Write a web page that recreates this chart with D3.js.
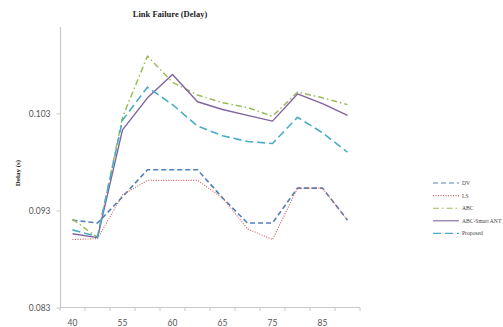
<!DOCTYPE html>
<html><head><meta charset="utf-8">
<script src="https://cdn.jsdelivr.net/npm/d3@7"></script>
<style>body{margin:0;background:#fff}svg{display:block}</style>
</head><body>
<svg id="c" width="503" height="327"></svg>
<script>
const categories = ["40","45","55","57","60","62","65","70","75","80","85","90"];
const shownLabels = ["40","55","60","65","75","85"];
const yTicks = [0.083, 0.093, 0.103];
const dv       = [0.0920,0.0917,0.0944,0.0972,0.0972,0.0972,0.0943,0.0917,0.0917,0.0953,0.0953,0.0920];
const ls       = [0.0900,0.0901,0.0946,0.0961,0.0961,0.0961,0.0943,0.0911,0.0900,0.0953,0.0953,0.0920];
const abc      = [0.0921,0.0902,0.1026,0.1089,0.1062,0.1049,0.1041,0.1036,0.1027,0.1052,0.1046,0.1039];
const smartAnt = [0.0906,0.0902,0.1013,0.1046,0.1070,0.1042,0.1034,0.1028,0.1022,0.1050,0.1040,0.1028];
const proposed = [0.0910,0.0903,0.1023,0.1057,0.1039,0.1017,0.1007,0.1001,0.0999,0.1026,0.1010,0.0990];
const seriesNames = ["DV","LS","ABC","ABC-Smart ANT","Proposed"];

const series = [
  {name:seriesNames[0], values:dv, color:"#4F81BD", width:1.6, dash:"5,3"},
  {name:seriesNames[1], values:ls, color:"#D0605D", width:1.1, dash:"1,1.5"},
  {name:seriesNames[2], values:abc, color:"#9BBB59", width:1.5, dash:"6,3,1.5,3"},
  {name:seriesNames[3], values:smartAnt, color:"#8064A2", width:1.4, dash:null},
  {name:seriesNames[4], values:proposed, color:"#4BACC6", width:1.6, dash:"8,4"}
];

const svg = d3.select("#c");
const x = d3.scaleBand().domain(categories).range([60,360]);
const y = d3.scaleLinear().domain([0.083, 0.1119]).range([307.5, 27]);
const cx = c => x(c) + x.bandwidth()/2;

const axisColor = "#c8c8c8";
svg.append("line").attr("x1",60.5).attr("x2",60.5).attr("y1",y.range()[1]).attr("y2",307.5)
  .attr("stroke",axisColor).attr("stroke-width",1.2);
svg.append("line").attr("x1",60).attr("x2",360).attr("y1",307.5).attr("y2",307.5)
  .attr("stroke",axisColor).attr("stroke-width",1.2);

const ya = d3.axisLeft(y).tickValues(yTicks).tickFormat(d3.format(".3f")).tickSize(4).tickPadding(6);
const yg = svg.append("g").attr("transform","translate(60.5,0)").call(ya);
yg.select(".domain").remove();
yg.selectAll("line").attr("stroke",axisColor);
yg.selectAll("text").attr("font-family","Lato, 'Open Sans', sans-serif").attr("font-size",8.5).attr("fill","#555");

const bounds = categories.map(c => x(c)).concat([x.range()[1]]);
svg.append("g").selectAll("line").data(bounds).join("line")
  .attr("x1",d=>d).attr("x2",d=>d).attr("y1",307.5).attr("y2",311)
  .attr("stroke",axisColor);
const xa = d3.axisBottom(x).tickValues(shownLabels).tickSize(0).tickPadding(12);
const xg = svg.append("g").attr("transform","translate(0,307.5)").call(xa);
xg.select(".domain").remove();
xg.selectAll("text").attr("font-family","Lato, 'Open Sans', sans-serif").attr("font-size",8.5).attr("fill","#555");

const line = d3.line().x((d,i)=>cx(categories[i])).y(d=>y(d));
series.forEach(s=>{
  svg.append("path").attr("d",line(s.values)).attr("fill","none")
    .attr("stroke",s.color).attr("stroke-width",s.width)
    .attr("stroke-dasharray",s.dash).attr("stroke-linejoin","round");
});

svg.append("text").attr("x",170).attr("y",17).attr("text-anchor","middle")
  .attr("font-family","'Liberation Serif', serif").attr("font-weight","bold").attr("font-size",8.5)
  .attr("fill","#222").text("Link Failure (Delay)");

svg.append("text").attr("transform","translate(20,173) rotate(-90)").attr("text-anchor","middle")
  .attr("font-family","'Liberation Serif', serif").attr("font-weight","bold").attr("font-size",7)
  .attr("fill","#222").text("Delay (s)");

const lg = svg.append("g");
series.forEach((s,i)=>{
  const ly = 183 + i*12.6;
  lg.append("line").attr("x1",433).attr("x2",459).attr("y1",ly).attr("y2",ly)
    .attr("stroke",s.color).attr("stroke-width",Math.min(s.width,1.1)).attr("stroke-dasharray",s.dash);
  lg.append("text").attr("x",462).attr("y",ly+2).attr("font-family","'Liberation Serif', serif")
    .attr("font-size",5.6).attr("fill","#444").text(s.name);
});
</script>
</body></html>
